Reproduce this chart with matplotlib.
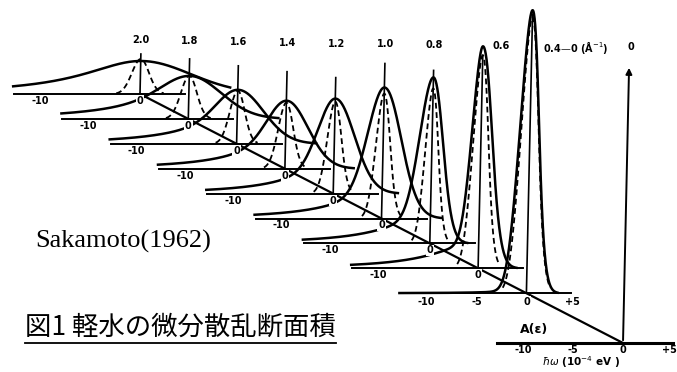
import numpy as np
import matplotlib
matplotlib.use("Agg")
import matplotlib.pyplot as plt

# momentum transfer of each slice (1/A), back to front
q_vals = [2.0, 1.8, 1.6, 1.4, 1.2, 1.0, 0.8, 0.6, 0.4]
q_labels = ["2.0", "1.8", "1.6", "1.4", "1.2", "1.0", "0.8", "0.6", "0.4\u20140 (\u00c5$^{-1}$)"]

# measured cross section (solid): peak height, core widths, low-energy tail
meas_peak = [3.3, 4.3, 5.4, 6.8, 9.5, 13.1, 16.6, 22.2, 28.3]
meas_sig_left = [4.0, 2.5, 2.0, 1.8, 1.6, 1.5, 1.2, 0.85, 0.95]
meas_sig_right = [5.0, 3.2, 2.6, 2.2, 2.0, 1.8, 1.1, 1.1, 0.88]
tail_amp = [3.3, 3.0, 2.8, 3.0, 2.8, 2.8, 2.8, 2.6, 0.3]
tail_width = [7.0, 6.0, 5.5, 5.0, 5.0, 5.0, 5.0, 5.0, 3.0]

# calculated cross section (dashed)
calc_peak = [3.5, 4.3, 5.3, 6.6, 9.2, 12.5, 15.5, 21.3, 27.6]
calc_sig = [0.85, 0.8, 0.75, 0.75, 0.7, 0.7, 0.65, 0.75, 0.85]

# height of the hw=0 marker line on each slice
zero_mark = [4.0, 6.0, 7.8, 9.7, 11.6, 15.5, 17.3, 21.3, 27.9]

front_ticks = [-10, -5, 0, 5]
front_axis_height = 27.8

# projection of (q, hw, A) onto the page, in pixels (y up)
W, H = 677, 372
PX = 10.0
X0, Y0 = 623, 29
DX, DY = 241.5, 124.5
SHEAR = 0.022
W_MIN, W_MAX = -12.6, 4.5


def proj(q, w, a):
    w = np.asarray(w, dtype=float)
    a = np.asarray(a, dtype=float)
    x = X0 - DX * q + PX * w + SHEAR * PX * a
    y = Y0 + DY * q + PX * a
    return x, y


def measured(w, i):
    sl, sr = meas_sig_left[i], meas_sig_right[i]
    right = np.exp(-w ** 2 / (2 * sr ** 2))
    core = (meas_peak[i] - tail_amp[i]) * np.where(w < 0, np.exp(-w ** 2 / (2 * sl ** 2)), right)
    tail = tail_amp[i] * np.where(w < 0, 1 / (1 + (w / tail_width[i]) ** 2), right)
    return core + tail


fig = plt.figure(figsize=(W / 100, H / 100), dpi=100)
ax = fig.add_axes([0, 0, 1, 1])
ax.set_xlim(0, W)
ax.set_ylim(0, H)
ax.axis("off")

lab = dict(fontsize=7, fontweight="bold", ha="center", va="center", color="black")
white = dict(facecolor="white", edgecolor="none", pad=0.6)

for i, q in enumerate(q_vals):
    # baseline
    bx, by = proj(q, [W_MIN, W_MAX], [0, 0])
    ax.plot(bx, by, color="black", lw=1.4, zorder=2)

    # zero marker
    zx, zy = proj(q, [0, 0], [0, zero_mark[i]])
    ax.plot(zx, zy, color="black", lw=1.2, zorder=2)

    # calculated curve
    s = calc_sig[i]
    w = np.linspace(-2.8 * s, 2.8 * s, 120)
    cx, cy = proj(q, w, calc_peak[i] * np.exp(-w ** 2 / (2 * s ** 2)))
    ax.plot(cx, cy, color="black", lw=1.3, ls=(0, (3.2, 2.0)), zorder=3)

    # measured curve
    w = np.linspace(W_MIN - 0.1, 9.0, 900)
    a = measured(w, i)
    keep = (w < 0) | (a > 0.05)
    mx, my = proj(q, w[keep], a[keep])
    ax.plot(mx, my, color="black", lw=1.8, zorder=3)

    # axis labels under the baseline
    if i < len(q_vals) - 1:
        for t in [-10, 0]:
            tx, ty = proj(q, t, 0)
            ax.text(tx, ty - 7, "-10" if t else "0", bbox=white, zorder=5, **lab)
    else:
        for t in front_ticks:
            tx, ty = proj(q, t, 0)
            txt = "+5" if t > 0 else str(t)
            ax.text(tx + (-4 if t > 0 else 0), ty - 9, txt, bbox=white, zorder=5, **lab)

    # q label on top
    _, y0 = proj(q, 0, 0)
    ly = H - (40 + (2.0 - q) * 4.4)
    la = (ly - y0) / PX
    lx, _ = proj(q, 0, la)
    if meas_peak[i] > la - 1:
        px, _ = proj(q, 0, meas_peak[i])
        ax.text(px + 10, ly, q_labels[i], fontsize=7, fontweight="bold", ha="left", va="center")
    else:
        ax.text(lx, ly, q_labels[i], **lab)

# diagonal through the slice origins
dx, dy = proj(np.array([q_vals[0], 0.0]), 0, 0)
ax.plot(dx, dy, color="black", lw=1.6, zorder=2)

# front axis A(e) at q = 0
fx, fy = proj(0.0, [W_MIN, 5.0], [0, 0])
ax.plot(fx, fy, color="black", lw=2.2, zorder=2)
for t in front_ticks:
    tx, ty = proj(0.0, t, 0)
    ax.text(tx - (4 if t > 0 else 0), ty - 7, "+5" if t > 0 else str(t), **lab)
ox, oy = proj(0.0, 0, 0)
ax.text(ox - 89, oy + 13, "A(\u03b5)", fontsize=9, fontweight="bold", ha="center", va="center")
ax.text(ox - 42, oy - 19.5, r"$\hbar\omega$ (10$^{-4}$ eV )", fontsize=7.5, fontweight="bold",
        ha="center", va="center")
ax_top = proj(0.0, 0, front_axis_height)
ax.annotate("", xy=ax_top, xytext=(ox, oy),
            arrowprops=dict(arrowstyle="-|>", lw=1.4, color="black", mutation_scale=9))
ax.text(float(ax_top[0]) + 2, H - 47, "0", **lab)

ax.text(35, H - 241, "Sakamoto(1962)", fontsize=19, family="Liberation Serif",
        ha="left", va="center")

cap = ax.text(25, H - 327, "\u56f31 \u8efd\u6c34\u306e\u5fae\u5206\u6563\u4e71\u65ad\u9762\u7a4d",
              fontsize=19, family=["Noto Sans CJK JP", "DejaVu Sans"], ha="left", va="center")
fig.canvas.draw()
bb = cap.get_window_extent().transformed(ax.transData.inverted())
ax.plot([bb.x0, bb.x1], [bb.y0 - 2, bb.y0 - 2], color="black", lw=1.3)

fig.savefig("out.png", dpi=100)
